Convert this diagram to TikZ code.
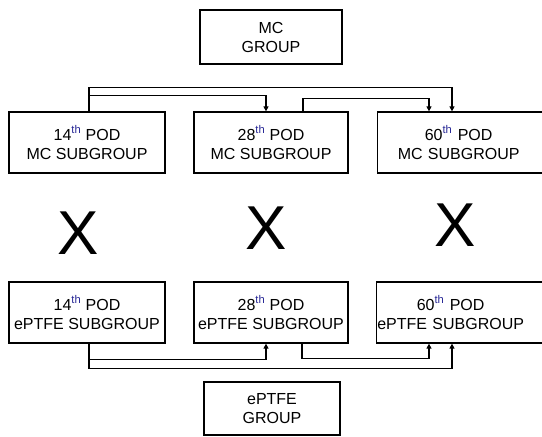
\documentclass[tikz,border=0pt]{standalone}
\usepackage{fontspec}
\setsansfont{Liberation Sans}
\usepackage{xcolor}
\usetikzlibrary{arrows.meta, positioning, calc}
\definecolor{supblue}{RGB}{40,40,150}
\newcommand{\nth}[1]{#1\textsuperscript{\color{supblue}th}}

\begin{document}
\begin{tikzpicture}[
    x=1pt, y=-1pt,
    font=\sffamily\fontsize{16}{19}\selectfont,
    groupbox/.style={rectangle, draw=black, line width=1.3pt, fill=white, minimum width=142pt, minimum height=54pt, align=center},
    subbox/.style={rectangle, draw=black, line width=1.3pt, fill=white, minimum width=156pt, minimum height=61pt, align=center},
    edgebox/.style={subbox, anchor=west, minimum width=200pt, text width=200pt, inner xsep=0pt},
    cross/.style={font=\sffamily\fontsize{62}{62}\selectfont, inner sep=0pt},
    arrow/.style={-{Triangle[length=5pt, width=5pt]}, line width=1.4pt, draw=black}
  ]
    \useasboundingbox (0,0) rectangle (542,437);
    \clip (0,0) rectangle (542,437);

    \node[groupbox] (mc) at (271, 37) {MC\\GROUP};
    \node[subbox] (mc14) at (87, 142.5) {\nth{14} POD\\MC SUBGROUP};
    \node[subbox, minimum width=154pt] (mc28) at (271, 142.5) {\nth{28} POD\\MC SUBGROUP};
    \node[edgebox] (mc60) at (377, 142.5) {\nth{60} POD\rule{38pt}{0pt}\\MC SUBGROUP\rule{38pt}{0pt}};

    \node[cross] (x14) at (78, 233) {X};
    \node[cross] (x28) at (266, 228) {X};
    \node[cross] (x60) at (455, 225) {X};

    \node[subbox] (pt14) at (87, 312.5) {\nth{14} POD\\ePTFE SUBGROUP};
    \node[subbox, minimum width=154pt] (pt28) at (271, 312.5) {\nth{28} POD\\ePTFE SUBGROUP};
    \node[edgebox] (pt60) at (376, 312.5) {\nth{60} POD\rule{52pt}{0pt}\\ePTFE SUBGROUP\rule{52pt}{0pt}};
    \node[groupbox, minimum width=136pt, minimum height=53pt] (pt) at (272, 408.5) {ePTFE\\GROUP};

    % MC subgroups
    \draw[arrow] ([xshift=2pt]mc14.north) -- ++(0,-24) -| ([xshift=75pt]mc60.north west);
    \draw[arrow] ([xshift=2pt]mc14.north) ++(0,-16) -| ([xshift=-5pt]mc28.north);
    \draw[arrow] ([xshift=32pt]mc28.north) -- ++(0,-13) -| ([xshift=52pt]mc60.north west);

    % ePTFE subgroups
    \draw[arrow] ([xshift=2pt]pt14.south) -- ++(0,25) -| ([xshift=76pt]pt60.south west);
    \draw[arrow] ([xshift=2pt]pt14.south) ++(0,16) -| ([xshift=-5pt]pt28.south);
    \draw[arrow] ([xshift=31pt]pt28.south) -- ++(0,15) -| ([xshift=53pt]pt60.south west);

\end{tikzpicture}
\end{document}
